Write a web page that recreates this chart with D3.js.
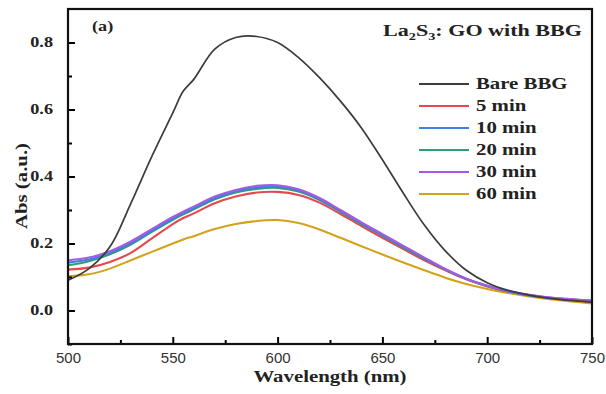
<!DOCTYPE html>
<html>
<head>
<meta charset="utf-8">
<script src="https://cdn.jsdelivr.net/npm/d3@7"></script>
<style>
  body { margin: 0; background: #fff; }
  .serif { font-family: "Liberation Serif", "Times New Roman", serif; font-weight: bold; }
</style>
</head>
<body>
<div id="chart"></div>
<script>
// Chart data
var wavelength = [500,510,520,530,540,550,555,560,570,580,590,600,610,620,630,640,650,660,670,680,690,700,710,720,730,740,750];
var bareBBG = [0.09,0.125,0.19,0.32,0.46,0.59,0.655,0.69,0.78,0.815,0.818,0.80,0.755,0.695,0.625,0.545,0.45,0.35,0.255,0.178,0.12,0.083,0.06,0.046,0.036,0.03,0.025];
var min5  = [0.122,0.128,0.145,0.172,0.215,0.258,0.276,0.29,0.32,0.34,0.352,0.354,0.345,0.322,0.288,0.252,0.217,0.183,0.15,0.12,0.093,0.072,0.056,0.045,0.037,0.031,0.027];
var min10 = [0.143,0.152,0.172,0.2,0.238,0.274,0.29,0.305,0.335,0.356,0.367,0.37,0.358,0.332,0.297,0.26,0.225,0.19,0.156,0.123,0.095,0.074,0.057,0.046,0.038,0.033,0.029];
var min20 = [0.135,0.147,0.168,0.197,0.235,0.271,0.287,0.302,0.332,0.352,0.363,0.366,0.355,0.33,0.295,0.258,0.223,0.188,0.154,0.122,0.094,0.073,0.057,0.046,0.038,0.033,0.029];
var min30 = [0.15,0.158,0.177,0.206,0.243,0.279,0.295,0.31,0.34,0.36,0.372,0.374,0.362,0.336,0.3,0.263,0.228,0.193,0.158,0.124,0.095,0.074,0.058,0.047,0.039,0.034,0.03];
var min60 = [0.102,0.108,0.125,0.15,0.175,0.2,0.212,0.222,0.243,0.258,0.267,0.27,0.261,0.242,0.217,0.192,0.167,0.143,0.12,0.098,0.079,0.064,0.052,0.042,0.034,0.027,0.021];

var seriesNames = ["Bare BBG", "5 min", "10 min", "20 min", "30 min", "60 min"];
var seriesColors = ["#3c3c3c", "#e5484d", "#3f7fe0", "#2e9e6e", "#a45be0", "#d4a21a"];
var seriesValues = [bareBBG, min5, min10, min20, min30, min60];

var xTicks = [500, 550, 600, 650, 700, 750];
var yTicks = [0.0, 0.2, 0.4, 0.6, 0.8];

// SVG area
var svgWidth = 606;
var svgHeight = 394;
var margin = { top: 9, right: 14, bottom: 50, left: 68 };
var chartWidth = svgWidth - margin.left - margin.right;
var chartHeight = svgHeight - margin.top - margin.bottom;

// the serif lettering in the figure is wide, so stretch it sideways
var stretch = 1.3;

var svg = d3.select("#chart")
  .append("svg")
  .attr("width", svgWidth)
  .attr("height", svgHeight);

var chartGroup = svg.append("g")
  .attr("transform", `translate(${margin.left}, ${margin.top})`);

// Scales
var xScale = d3.scaleLinear().domain([500, 750]).range([0, chartWidth]);
var yScale = d3.scaleLinear().domain([-0.1, 0.9]).range([chartHeight, 0]);

// Curves
var line = d3.line()
  .x(d => xScale(d[0]))
  .y(d => yScale(d[1]))
  .curve(d3.curveCatmullRom.alpha(0.5));

svg.append("clipPath").attr("id", "plotclip")
  .append("rect").attr("width", chartWidth).attr("height", chartHeight);

var linesGroup = chartGroup.append("g").attr("clip-path", "url(#plotclip)");

// back to front: gold, red, green, blue, purple, then black
[5, 1, 3, 2, 4, 0].forEach(function(i) {
  linesGroup.append("path")
    .datum(wavelength.map((w, j) => [w, seriesValues[i][j]]))
    .attr("fill", "none")
    .attr("stroke", seriesColors[i])
    .attr("stroke-width", i === 0 ? 1.7 : 2.1)
    .attr("d", line);
});

// Axes, ticks pointing inward
var bottomAxis = d3.axisBottom(xScale).tickValues(d3.range(500, 751, 25))
  .tickSize(-7).tickFormat(d => xTicks.includes(d) ? d : "");
var leftAxis = d3.axisLeft(yScale).tickValues(d3.range(-0.1, 0.85, 0.1).map(v => +v.toFixed(1)))
  .tickSize(-7).tickFormat(d => yTicks.includes(d) ? d.toFixed(1) : "");

var xAxisG = chartGroup.append("g")
  .attr("transform", `translate(0, ${chartHeight})`)
  .call(bottomAxis);
xAxisG.selectAll(".tick line")
  .attr("y2", d => xTicks.includes(d) ? -7 : -4)
  .attr("stroke-width", 2);
xAxisG.selectAll(".tick text")
  .attr("y", 8)
  .attr("font-family", "'Liberation Sans', Arial, sans-serif")
  .attr("font-size", 15)
  .attr("fill", "#333");

var yAxisG = chartGroup.append("g").call(leftAxis);
yAxisG.selectAll(".tick line")
  .attr("x2", d => yTicks.includes(d) ? 7 : 4)
  .attr("stroke-width", 2);
yAxisG.selectAll(".tick text")
  .attr("x", -15 / stretch)
  .attr("transform", `scale(${stretch},1)`)
  .attr("class", "serif")
  .attr("font-size", 14)
  .attr("fill", "#222");

[xAxisG, yAxisG].forEach(g => g.select(".domain").remove());

// Frame
chartGroup.append("rect")
  .attr("width", chartWidth)
  .attr("height", chartHeight)
  .attr("fill", "none")
  .attr("stroke", "#111")
  .attr("stroke-width", 2.2);

// Axis labels
svg.append("text")
  .attr("class", "serif")
  .attr("transform", `translate(${margin.left + chartWidth / 2}, 382) scale(${stretch},1)`)
  .attr("text-anchor", "middle")
  .attr("font-size", 16)
  .attr("fill", "#222")
  .text("Wavelength (nm)");

svg.append("text")
  .attr("class", "serif")
  .attr("transform", `translate(27, 186) rotate(-90) scale(${stretch},1)`)
  .attr("text-anchor", "middle")
  .attr("font-size", 16)
  .attr("fill", "#222")
  .text("Abs (a.u.)");

// Panel label and title
chartGroup.append("text")
  .attr("class", "serif")
  .attr("transform", `translate(24, 22) scale(${stretch},1)`)
  .attr("font-size", 14)
  .attr("fill", "#222")
  .text("(a)");

var title = chartGroup.append("text")
  .attr("class", "serif")
  .attr("transform", `translate(${chartWidth - 10}, 27) scale(${stretch},1)`)
  .attr("text-anchor", "end")
  .attr("font-size", 17)
  .attr("fill", "#222");
title.append("tspan").text("La");
title.append("tspan").attr("font-size", 11).attr("dy", 4).text("2");
title.append("tspan").attr("dy", -4).text("S");
title.append("tspan").attr("font-size", 11).attr("dy", 4).text("3");
title.append("tspan").attr("dy", -4).text(": GO with BBG");

// Legend
var legend = chartGroup.append("g")
  .attr("transform", "translate(351, 75)");

var rows = legend.selectAll("g")
  .data(seriesNames)
  .enter()
  .append("g")
  .attr("transform", (d, i) => `translate(0, ${i * 22})`);

rows.append("line")
  .attr("x1", 0).attr("x2", 50)
  .attr("y1", 0).attr("y2", 0)
  .attr("stroke", (d, i) => seriesColors[i])
  .attr("stroke-width", 2);

rows.append("text")
  .attr("class", "serif")
  .attr("transform", `translate(57, 5) scale(${stretch},1)`)
  .attr("font-size", 16)
  .attr("fill", "#222")
  .text(d => d);
</script>
</body>
</html>
